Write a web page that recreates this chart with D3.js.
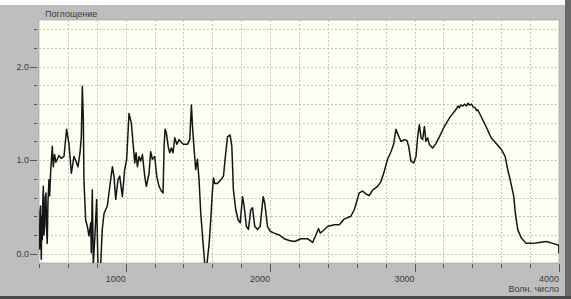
<!DOCTYPE html>
<html>
<head>
<meta charset="utf-8">
<script src="https://cdn.jsdelivr.net/npm/d3@7"></script>
<style>
  html, body { margin: 0; padding: 0; background: #fff; }
  text { font-family: "Liberation Sans", Arial, sans-serif; font-size: 9px; fill: #3a3a3a; }
</style>
</head>
<body>
<div id="chart"></div>
<script>
/* CONSTANTS AND GLOBALS */
const width = 571,
  height = 299,
  plot = { left: 39, right: 559, top: 20, bottom: 263 };

// spectrum: wave number (cm-1) and absorbance
const wavenumber = [
  400, 404, 407, 411, 414, 416, 419, 423, 426, 430, 434, 439, 443, 448, 452, 457, 462, 469, 474,
  480, 486, 492, 499, 508, 517, 527, 538, 554, 573, 591, 607, 624, 642, 656, 670, 684, 693, 700,
  707, 711, 723, 735, 746, 758, 762, 769, 776, 788, 799, 808, 827, 838, 850, 873, 896, 908, 919,
  931, 947, 959, 977, 993, 1007, 1023, 1039, 1053, 1063, 1072, 1081, 1093, 1104, 1116, 1132, 1143,
  1162, 1173, 1185, 1201, 1215, 1231, 1247, 1259, 1266, 1273, 1282, 1294, 1305, 1317, 1328, 1340,
  1354, 1370, 1381, 1400, 1428, 1444, 1455, 1464, 1474, 1485, 1497, 1508, 1520, 1532, 1548, 1562,
  1578, 1589, 1601, 1608, 1617, 1635, 1659, 1677, 1693, 1705, 1723, 1735, 1746, 1762, 1779, 1793,
  1809, 1820, 1836, 1850, 1866, 1878, 1894, 1913, 1931, 1952, 1963, 1982, 2000, 2028, 2063, 2097,
  2132, 2170, 2213, 2259, 2294, 2317, 2335, 2347, 2363, 2398, 2444, 2479, 2513, 2559, 2583, 2617,
  2640, 2663, 2686, 2710, 2744, 2767, 2790, 2813, 2837, 2855, 2871, 2887, 2906, 2929, 2947, 2959,
  2975, 2994, 3010, 3021, 3033, 3045, 3056, 3068, 3079, 3091, 3102, 3125, 3149, 3172, 3206, 3241,
  3260, 3276, 3290, 3300, 3310, 3320, 3335, 3345, 3360, 3370, 3380, 3395, 3405, 3420, 3430, 3437,
  3460, 3495, 3530, 3564, 3599, 3627, 3645, 3668, 3687, 3698, 3714, 3738, 3772, 3818, 3864, 3911,
  3957, 3998, 4000
];
const absorbance = [
  0.30, 0.05, 0.45, 0.51, 0.10, -0.06, 0.40, 0.15, 0.55, 0.72, 0.20, 0.29, 0.60, 0.65, 0.30, 0.11,
  0.55, 0.79, 0.62, 0.86, 1.00, 1.15, 0.93, 1.06, 0.98, 1.01, 1.05, 1.02, 1.04, 1.33, 1.18, 0.86,
  1.04, 0.99, 0.93, 1.08, 1.25, 1.79, 1.43, 0.79, 0.36, 0.29, 0.19, 0.33, 0.01, 0.68, -0.12, 0.22,
  0.58, -0.12, -0.12, 0.26, 0.43, 0.51, 0.79, 0.93, 0.83, 0.58, 0.79, 0.83, 0.61, 0.90, 1.01, 1.50,
  1.40, 1.15, 0.97, 1.08, 0.93, 1.04, 0.99, 1.06, 0.83, 0.72, 0.86, 1.09, 1.01, 1.04, 0.83, 0.72,
  0.67, 0.65, 1.15, 1.33, 1.29, 1.15, 1.08, 1.13, 1.08, 1.24, 1.17, 1.22, 1.20, 1.17, 1.17, 1.22,
  1.59, 1.33, 1.11, 0.90, 1.01, 0.79, 0.43, 0.19, -0.12, -0.12, 0.11, 0.36, 0.68, 0.81, 0.75, 0.75,
  0.79, 0.83, 1.08, 1.25, 1.27, 1.15, 0.68, 0.47, 0.36, 0.33, 0.61, 0.51, 0.29, 0.26, 0.47, 0.49,
  0.29, 0.26, 0.29, 0.61, 0.54, 0.29, 0.24, 0.22, 0.20, 0.16, 0.14, 0.13, 0.16, 0.16, 0.12, 0.20,
  0.27, 0.22, 0.24, 0.29, 0.31, 0.31, 0.37, 0.40, 0.47, 0.65, 0.67, 0.64, 0.62, 0.68, 0.72, 0.77,
  0.88, 1.01, 1.09, 1.17, 1.33, 1.27, 1.20, 1.22, 1.21, 1.15, 0.99, 0.97, 1.04, 1.24, 1.38, 1.24,
  1.22, 1.36, 1.20, 1.24, 1.17, 1.13, 1.18, 1.25, 1.36, 1.45, 1.49, 1.52, 1.55, 1.58, 1.56, 1.59,
  1.58, 1.60, 1.58, 1.61, 1.59, 1.60, 1.57, 1.56, 1.53, 1.54, 1.47, 1.36, 1.24, 1.18, 1.12, 1.04,
  0.90, 0.75, 0.61, 0.43, 0.26, 0.17, 0.11, 0.11, 0.12, 0.13, 0.11, 0.09, 0.00
];

const xTickLabels = [1000, 2000, 3000, 4000];
const yTickLabels = [0, 1, 2];
const yAxisTitle = "Поглощение";
const xAxisTitle = "Волн. число";

const spectrum = wavenumber.map((w, i) => ({ w: w, a: absorbance[i] }));

/* SCALES */
const xScale = d3.scaleLinear().domain([400, 4000]).range([plot.left, plot.right]);
const yScale = d3.scaleLinear().domain([-0.1, 2.5]).range([plot.bottom, plot.top]);

const svg = d3.select("#chart")
  .append("svg")
  .attr("width", width)
  .attr("height", height);

// grey window frame
svg.append("rect").attr("x", 0).attr("y", 5).attr("width", 566).attr("height", 291).attr("fill", "#bebebe");
svg.append("rect").attr("x", 565).attr("y", 0).attr("width", 6).attr("height", height).attr("fill", "#6a6a6a");
svg.append("rect").attr("x", 0).attr("y", 296).attr("width", width).attr("height", 3).attr("fill", "#4a4a4a");

// plot background
svg.append("rect")
  .attr("x", plot.left)
  .attr("y", plot.top)
  .attr("width", plot.right - plot.left)
  .attr("height", plot.bottom - plot.top)
  .attr("fill", "#fefef3")
  .attr("stroke", "#9a9a9a")
  .attr("stroke-width", 0.6);

// + GRID
const xGrid = d3.range(600, 4000, 200);
const yGrid = d3.range(0, 2.5, 0.2);

svg.append("g")
  .selectAll("line")
  .data(xGrid)
  .join("line")
  .attr("x1", d => Math.round(xScale(d)) + 0.5)
  .attr("x2", d => Math.round(xScale(d)) + 0.5)
  .attr("y1", plot.top)
  .attr("y2", plot.bottom)
  .attr("stroke", "#c4c4c4")
  .attr("stroke-dasharray", "2,2");

svg.append("g")
  .selectAll("line")
  .data(yGrid)
  .join("line")
  .attr("x1", plot.left)
  .attr("x2", plot.right)
  .attr("y1", d => Math.round(yScale(d)) + 0.5)
  .attr("y2", d => Math.round(yScale(d)) + 0.5)
  .attr("stroke", "#c4c4c4")
  .attr("stroke-dasharray", "2,2");

// + AXES (drawn by hand to look like the old windows plot)
const xTicks = d3.range(400, 4001, 200);
svg.append("g")
  .selectAll("line")
  .data(xTicks)
  .join("line")
  .attr("x1", d => Math.round(xScale(d)) + 0.5)
  .attr("x2", d => Math.round(xScale(d)) + 0.5)
  .attr("y1", plot.bottom + 1)
  .attr("y2", d => xTickLabels.includes(d) ? plot.bottom + 9 : plot.bottom + 5)
  .attr("stroke", "#555");

svg.append("g")
  .selectAll("text")
  .data(xTickLabels)
  .join("text")
  .attr("x", d => xScale(d))
  .attr("y", 282)
  .attr("text-anchor", "end")
  .text(d => d);

svg.append("text")
  .attr("x", plot.right)
  .attr("y", 292)
  .attr("text-anchor", "end")
  .text(xAxisTitle);

const yTicks = d3.range(0, 2.5, 0.2);
svg.append("g")
  .selectAll("line")
  .data(yTicks)
  .join("line")
  .attr("x1", d => yTickLabels.some(v => Math.abs(v - d) < 1e-6) ? 30 : 34)
  .attr("x2", plot.left - 2)
  .attr("y1", d => Math.round(yScale(d)) + 0.5)
  .attr("y2", d => Math.round(yScale(d)) + 0.5)
  .attr("stroke", "#555");

svg.append("g")
  .selectAll("text")
  .data(yTickLabels)
  .join("text")
  .attr("x", 29)
  .attr("y", d => yScale(d) + 3)
  .attr("text-anchor", "end")
  .text(d => d.toFixed(1));

svg.append("text")
  .attr("x", 45)
  .attr("y", 17)
  .text(yAxisTitle);

// + SPECTRUM LINE
svg.append("clipPath")
  .attr("id", "clip")
  .append("rect")
  .attr("x", plot.left)
  .attr("y", plot.top)
  .attr("width", plot.right - plot.left)
  .attr("height", plot.bottom - plot.top);

const line = d3.line()
  .x(d => xScale(d.w))
  .y(d => yScale(d.a));

svg.append("path")
  .datum(spectrum)
  .attr("clip-path", "url(#clip)")
  .attr("fill", "none")
  .attr("stroke", "#151515")
  .attr("stroke-width", 1.5)
  .attr("stroke-linejoin", "round")
  .attr("d", line);
</script>
</body>
</html>
